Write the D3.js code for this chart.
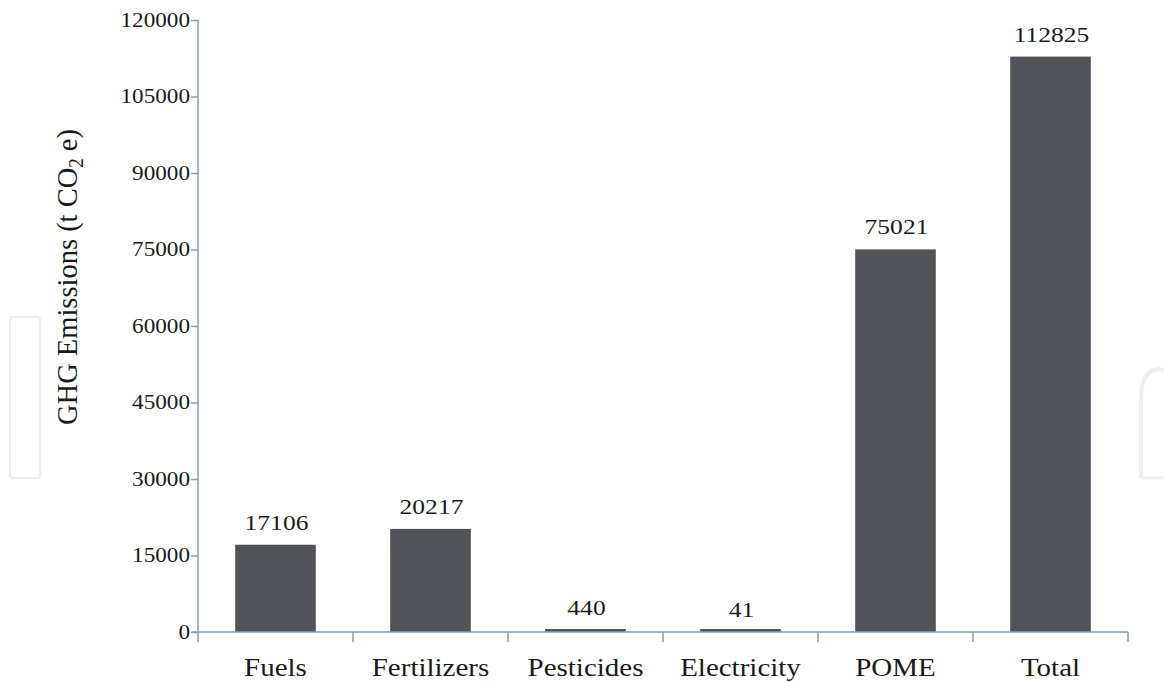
<!DOCTYPE html>
<html>
<head>
<meta charset="utf-8">
<script src="https://cdn.jsdelivr.net/npm/d3@7"></script>
<style>
  html, body { margin: 0; padding: 0; background: #ffffff; }
  svg { display: block; }
</style>
</head>
<body>
<svg id="chart" width="1164" height="682"></svg>
<script>
const categories = ["Fuels", "Fertilizers", "Pesticides", "Electricity", "POME", "Total"];
const values = [17106, 20217, 440, 41, 75021, 112825];
const valueLabels = ["17106", "20217", "440", "41", "75021", "112825"];
const yTicks = [0, 15000, 30000, 45000, 60000, 75000, 90000, 105000, 120000];
const yTitle = "GHG Emissions (t CO";
const yTitleSub = "2";
const yTitleEnd = " e)";

(function () {
const FONT = '"Liberation Serif"';
const svg = d3.select("#chart");
const mLeft = 198, mRight = 1128, mTop = 20, mBottom = 632;
const axisColor = "#7f9fb5";
const barColor = "#505458";
const textColor = "#1a1a1a";
const stretch = 1.16;

// faint watermark shapes
svg.append("rect").attr("x", 10).attr("y", 317).attr("width", 30).attr("height", 161)
  .attr("rx", 3).attr("fill", "none").attr("stroke", "#eceeef").attr("stroke-width", 2);
svg.append("path").attr("d", "M1141,478 L1141,400 Q1141,365 1164,370")
  .attr("fill", "none").attr("stroke", "#eceeef").attr("stroke-width", 4);
svg.append("path").attr("d", "M1141,478 L1164,478")
  .attr("fill", "none").attr("stroke", "#eceeef").attr("stroke-width", 3);

const x = d3.scaleBand().domain(categories).range([mLeft, mRight]).paddingInner(0.48).paddingOuter(0.24);
const y = d3.scaleLinear().domain([0, 120000]).range([mBottom, mTop]);

// bars
svg.append("g").selectAll("rect").data(values).join("rect")
  .attr("x", (d, i) => x(categories[i]))
  .attr("y", d => Math.min(y(d), mBottom - 3))
  .attr("width", x.bandwidth())
  .attr("height", d => Math.max(mBottom - y(d), 3))
  .attr("fill", barColor);

// value labels
svg.append("g").selectAll("text").data(values).join("text")
  .attr("transform", (d, i) => `translate(${x(categories[i]) + x.bandwidth() / 2 + 1},${y(d) - 15}) scale(${stretch},1)`)
  .attr("text-anchor", "middle")
  .attr("fill", textColor)
  .style("font-family", FONT)
  .attr("font-size", 22)
  .text((d, i) => valueLabels[i]);

// y axis
const yAxis = d3.axisLeft(y).tickValues(yTicks).tickSize(7).tickPadding(0).tickFormat(d3.format("d"));
const gy = svg.append("g").attr("transform", `translate(${mLeft},0)`).call(yAxis);
gy.attr("font-family", null).attr("font-size", null);
gy.select(".domain").attr("stroke", axisColor).attr("stroke-width", 1.5).attr("d", `M0,${mTop}V${mBottom}`);
gy.selectAll(".tick line").attr("stroke", axisColor).attr("stroke-width", 1.5);
gy.selectAll(".tick text")
  .attr("x", null)
  .attr("transform", `translate(-8,0) scale(${stretch},1)`)
  .style("font-family", FONT).attr("font-size", 20).attr("fill", textColor);

// x axis
const xEdges = d3.range(categories.length + 1).map(i => mLeft + i * (mRight - mLeft) / categories.length);
const gx = svg.append("g");
gx.append("line").attr("x1", mLeft - 6).attr("x2", mRight).attr("y1", mBottom).attr("y2", mBottom)
  .attr("stroke", axisColor).attr("stroke-width", 1.5);
gx.selectAll("line.t").data(xEdges).join("line").attr("class", "t")
  .attr("x1", d => d).attr("x2", d => d).attr("y1", mBottom).attr("y2", mBottom + 10)
  .attr("stroke", axisColor).attr("stroke-width", 1.5);
gx.selectAll("text").data(categories).join("text")
  .attr("transform", d => `translate(${x(d) + x.bandwidth() / 2},676) scale(${stretch},1)`)
  .attr("text-anchor", "middle")
  .attr("fill", textColor)
  .style("font-family", FONT)
  .attr("font-size", 25)
  .text(d => d);

// y title
const t = svg.append("text")
  .attr("transform", "translate(77,277) rotate(-90) scale(0.95,1)")
  .attr("text-anchor", "middle")
  .attr("fill", textColor)
  .style("font-family", FONT)
  .attr("font-size", 30);
t.append("tspan").text(yTitle);
t.append("tspan").attr("font-size", 20).attr("dy", 6).text(yTitleSub);
t.append("tspan").attr("dy", -6).text(yTitleEnd);
})();
</script>
</body>
</html>
